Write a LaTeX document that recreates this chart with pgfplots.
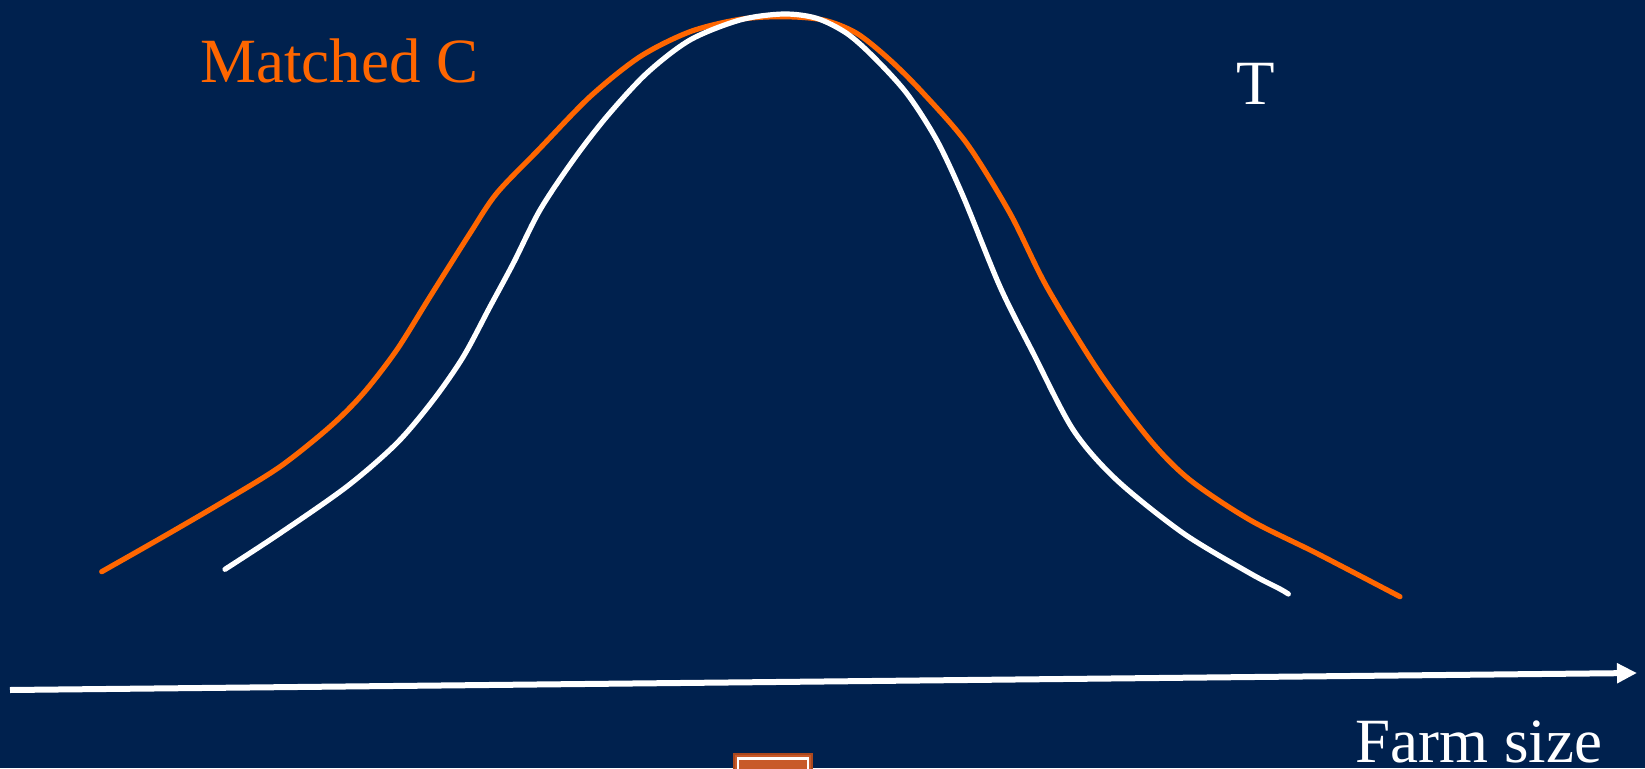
\documentclass[border=0pt]{standalone}
\usepackage{pgfplots}
\pgfplotsset{compat=1.18}
\usepackage{fontspec}
\setmainfont{Liberation Serif}
\usetikzlibrary{arrows.meta}
\definecolor{bg}{RGB}{0,33,78}
\definecolor{org}{RGB}{255,102,0}
\definecolor{boxfill}{RGB}{200,90,42}
\definecolor{boxedge}{RGB}{170,72,30}
\begin{document}
\begin{tikzpicture}
\fill[bg] (0,0) rectangle (822.5pt,384pt);
\begin{axis}[
  width=822.5pt, height=384pt, scale only axis,
  xmin=0, xmax=1645, ymin=0, ymax=768,
  hide axis, clip=true,
]
% matched control distribution
\addplot[org, line width=2.6pt, smooth, tension=0.5, line cap=round] coordinates {
(101.7,196.3) (163.3,231.3) (223.3,266.3) (280,301.3) (330,341.3) (363.3,374.7)
(396.7,418) (430,471.3) (470,534.7) (496.7,574.7) (538.3,618) (590,671.3)
(640,711.3) (690,736.3) (740,748.7) (783.3,751.3) (823.3,748) (856.7,734.7)
(890,708) (923.3,674.7) (966.7,624.7) (1010,554.7) (1046.7,481.3) (1100,394.7)
(1150,328) (1190,288) (1250,248) (1316.7,214.7) (1400,171.3)};
% treated distribution
\addplot[white, line width=2.6pt, smooth, tension=0.5, line cap=round] coordinates {
(225,198.7) (280,234.7) (346.7,281.3) (396.7,324.7) (433.3,368) (463.3,411.3)
(490,461.3) (513.3,504.7) (540,558) (573.3,608) (606.7,651.3) (646.7,694.7)
(690,728) (740,748) (783.3,754) (816.7,749.7) (846.7,734.7) (873.3,711.3)
(906.7,674.7) (936.7,628) (963.3,571.3) (1000,481.3) (1033.3,414.7) (1073.3,338)
(1116.7,288) (1183.3,234.7) (1250,194.7) (1280,179) (1288.3,174)};
% horizontal axis arrow
\addplot[white, line width=3pt, -{Triangle[length=10pt,width=9.5pt]}] coordinates {(10,78) (1637,95)};
\node[org, anchor=base west, inner sep=0pt, font=\fontsize{31.5}{36}\selectfont] at (axis cs:200,685) {Matched C};
\node[white, anchor=base west, inner sep=0pt, font=\fontsize{31.5}{36}\selectfont] at (axis cs:1236,663) {T};
\node[white, anchor=base west, inner sep=0pt, font=\fontsize{31.5}{36}\selectfont] at (axis cs:1355,6) {Farm size};
\fill[boxedge] (axis cs:733,-20) rectangle (axis cs:813,15);
\fill[boxfill] (axis cs:735,-20) rectangle (axis cs:811,13);
\draw[white, line width=1.2pt] (axis cs:738,-20) rectangle (axis cs:808,9.5);
\end{axis}
\end{tikzpicture}
\end{document}
